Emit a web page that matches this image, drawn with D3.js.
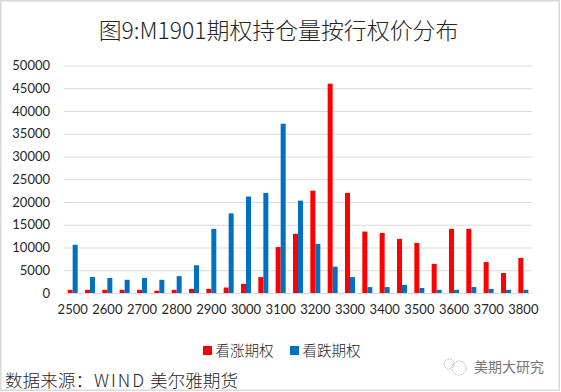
<!DOCTYPE html>
<html lang="zh-CN">
<head>
    <meta charset="UTF-8">
    <title>M1901</title>
    <script src="https://d3js.org/d3.v7.min.js"></script>
    <style>
        html, body { margin: 0; padding: 0; background: #fff; }
        svg { display: block; }
        text { font-family: "Noto Sans CJK SC", "Noto Sans", sans-serif; fill: #262626; }
        .tick text { font-family: Lato, "Open Sans", sans-serif; font-size: 13px; }
    </style>
</head>
<body>

<svg width="561" height="392"></svg>

<script>

    var strikes = [2500,2550,2600,2650,2700,2750,2800,2850,2900,2950,3000,3050,3100,3150,3200,3250,3300,3350,3400,3450,3500,3550,3600,3650,3700,3750,3800];
    var calls = [700,700,700,700,700,500,700,900,900,1200,2000,3500,10100,13000,22500,46000,22000,13500,13200,11900,11000,6400,14100,14100,6800,4400,7700];
    var puts = [10600,3500,3300,2900,3300,2900,3700,6100,14100,17500,21200,22000,37200,20300,10800,5800,3500,1300,1300,1800,1100,700,700,1300,900,700,700];
    var yTicks = [0,5000,10000,15000,20000,25000,30000,35000,40000,45000,50000];
    var xLabels = strikes.filter(function (d) { return d % 100 === 0; });

    var seriesNames = ['看涨期权','看跌期权'];
    var seriesColors = ['#ff0000','#0070c0'];

    var svg = d3.select('svg');
    var width = +svg.attr('width');
    var height = +svg.attr('height');

    // 外框
    svg.append('rect')
        .attr('x',0.75).attr('y',0.75)
        .attr('width',width - 2.5).attr('height',height - 2.5)
        .attr('fill','none').attr('stroke','#d9d9d9').attr('stroke-width',1.5);

    var plotLeft = 64, plotRight = 532, plotTop = 65.5, plotBottom = 293;

    var scaleX = d3.scaleBand().domain(strikes).range([plotLeft,plotRight]);
    var scaleY = d3.scaleLinear().domain([0,50000]).range([plotBottom,plotTop]);

    // 网格线 + y轴
    var axisY = d3.axisLeft(scaleY).tickValues(yTicks).tickSize(plotRight - plotLeft).tickFormat(d3.format('d'));
    var gy = svg.append('g').attr('transform','translate(' + plotRight + ',0)').call(axisY);
    gy.select('.domain').remove();
    gy.selectAll('.tick line').attr('stroke','#d9d9d9').attr('stroke-width',1);
    gy.selectAll('.tick text').attr('x',-(plotRight - plotLeft) - 14);

    // x轴
    var axisX = d3.axisBottom(scaleX).tickValues(xLabels).tickSize(0).tickPadding(12);
    var gx = svg.append('g').attr('transform','translate(0,' + plotBottom + ')').call(axisX);
    gx.select('.domain').remove();

    // 柱子
    var barW = 5;
    svg.append('g').selectAll('rect').data(calls).enter().append('rect')
        .attr('x',function (d,i) { return scaleX(strikes[i]) + scaleX.bandwidth()/2 - barW; })
        .attr('y',function (d) { return scaleY(d); })
        .attr('width',barW)
        .attr('height',function (d) { return plotBottom - scaleY(d); })
        .attr('fill',seriesColors[0]);
    svg.append('g').selectAll('rect').data(puts).enter().append('rect')
        .attr('x',function (d,i) { return scaleX(strikes[i]) + scaleX.bandwidth()/2; })
        .attr('y',function (d) { return scaleY(d); })
        .attr('width',barW)
        .attr('height',function (d) { return plotBottom - scaleY(d); })
        .attr('fill',seriesColors[1]);

    // 标题
    svg.append('text').attr('x',278.5).attr('y',39)
        .attr('text-anchor','middle').attr('font-size',22.9).attr('font-weight',300)
        .text('图9:M1901期权持仓量按行权价分布');

    // 图例
    var legendX = [203,290];
    seriesNames.forEach(function (name,i) {
        svg.append('rect').attr('x',legendX[i]).attr('y',346).attr('width',9).attr('height',9).attr('fill',seriesColors[i]);
        svg.append('text').attr('x',legendX[i] + 12.5).attr('y',355.5).attr('font-size',14.5).attr('font-weight',300).text(name);
    });

    // 数据来源
    var source = svg.append('text').attr('y',387).attr('font-size',17.6).attr('font-weight',300);
    source.append('tspan').attr('x',5).text('数据来源：');
    source.append('tspan').attr('x',94).attr('letter-spacing',2).text('WIND');
    source.append('tspan').attr('x',150).text('美尔雅期货');

    // 水印
    var mark = svg.append('g').attr('fill','none').attr('stroke','#9a9a9a').attr('stroke-width',0.8).attr('stroke-dasharray','1.5 1.2');
    mark.append('circle').attr('cx',449).attr('cy',364).attr('r',5);
    mark.append('circle').attr('cx',459).attr('cy',368).attr('r',7);
    svg.append('text').attr('x',474).attr('y',372).attr('font-size',14).style('fill','#777').text('美期大研究');

</script>

</body>
</html>
